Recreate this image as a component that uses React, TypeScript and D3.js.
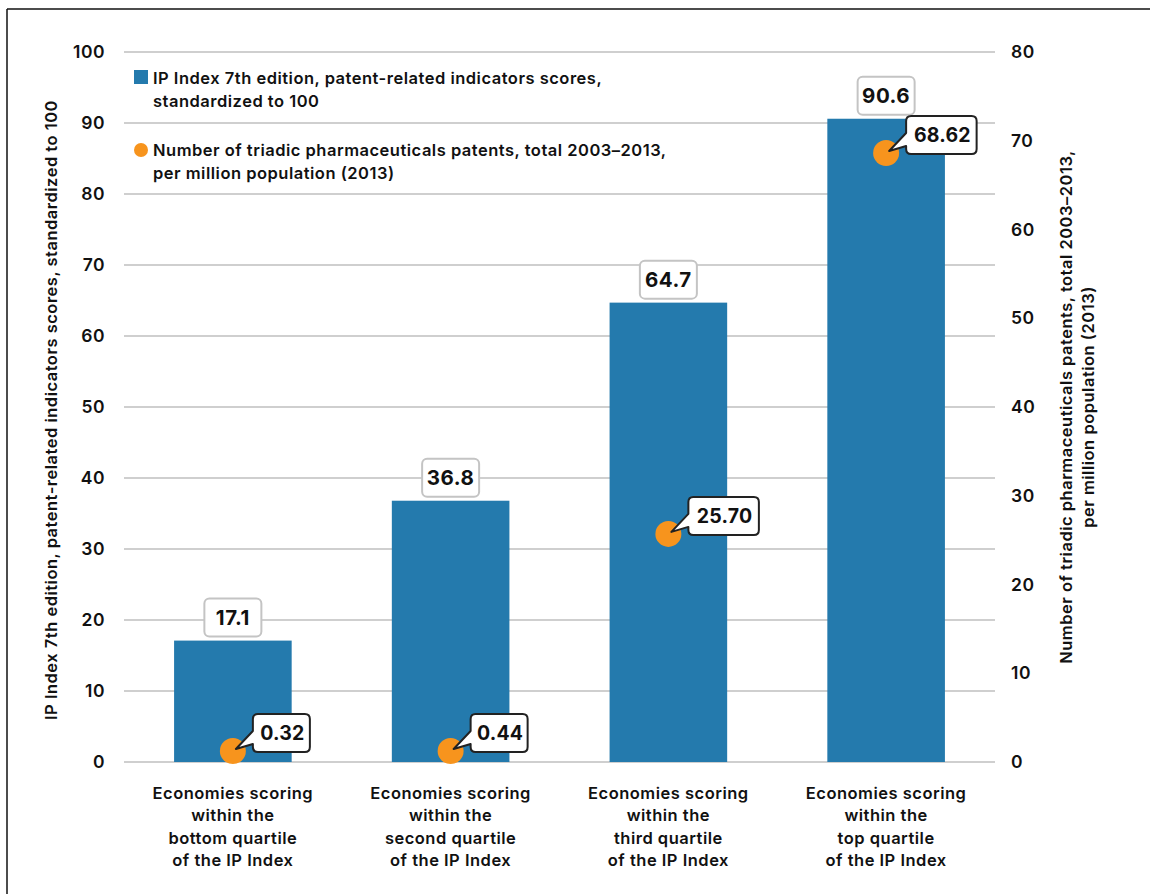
import React from "react";
import * as d3 from "d3";

const categories: string[][] = [
  ["Economies scoring", "within the", "bottom quartile", "of the IP Index"],
  ["Economies scoring", "within the", "second quartile", "of the IP Index"],
  ["Economies scoring", "within the", "third quartile", "of the IP Index"],
  ["Economies scoring", "within the", "top quartile", "of the IP Index"],
];
const ipScores = [17.1, 36.8, 64.7, 90.6];
const ipLabels = ["17.1", "36.8", "64.7", "90.6"];
const patents = [0.32, 0.44, 25.7, 68.62];
const patentLabels = ["0.32", "0.44", "25.70", "68.62"];
const leftTicks = [0, 10, 20, 30, 40, 50, 60, 70, 80, 90, 100];
const rightTicks = [0, 10, 20, 30, 40, 50, 60, 70, 80];
const legendBar = ["IP Index 7th edition, patent-related indicators scores,", "standardized to 100"];
const legendDot = ["Number of triadic pharmaceuticals patents, total 2003\u20132013,", "per million population (2013)"];
const leftTitle = "IP Index 7th edition, patent-related indicators scores, standardized to 100";
const rightTitle = ["Number of triadic pharmaceuticals patents, total 2003\u20132013,", "per million population (2013)"];

const BLUE = "#247aad";
const ORANGE = "#f7941d";
const FONT = "Inter, 'Open Sans', sans-serif";
const LS = 0.5;

function calloutPath(x: number, y: number, w: number, h: number, r: number, tx: number, ty: number) {
  const tTop = y + h - 21;
  const tBot = y + h - 8;
  return `M${x + r},${y} H${x + w - r} Q${x + w},${y} ${x + w},${y + r} V${y + h - r} Q${x + w},${y + h} ${x + w - r},${y + h} H${x + r} Q${x},${y + h} ${x},${y + h - r} V${tBot} L${tx},${ty} L${x},${tTop} V${y + r} Q${x},${y} ${x + r},${y} Z`;
}

export default function App() {
  const W = 1150, H = 894;
  const x = d3.scaleBand<number>().domain(d3.range(categories.length)).range([124, 995]).paddingInner(0.46).paddingOuter(0.23);
  const yL = d3.scaleLinear().domain([0, 100]).range([762, 52]);
  const yR = d3.scaleLinear().domain([0, 80]).range([762, 52]);
  const bw = x.bandwidth();

  return (
    <svg width={W} height={H} style={{ position: "absolute", left: 0, top: 0 }} fontFamily={FONT} letterSpacing={LS}>
      <rect x={0} y={0} width={W} height={H} fill="#fff" />
      <line x1={7} y1={9} x2={W} y2={9} stroke="#111" strokeWidth={1.5} />
      <line x1={7} y1={9} x2={7} y2={H} stroke="#111" strokeWidth={1.5} />

      {leftTicks.map((t) => (
        <g key={"g" + t}>
          <line x1={124} x2={995} y1={yL(t)} y2={yL(t)} stroke="#cfcfcf" strokeWidth={2} />
          <text x={105} y={yL(t)} dy="0.35em" textAnchor="end" fontSize={17.5} fontWeight={600} fill="#111">{t}</text>
        </g>
      ))}
      {rightTicks.map((t) => (
        <text key={"r" + t} x={1011} y={yR(t)} dy="0.35em" textAnchor="start" fontSize={17.5} fontWeight={600} fill="#111">{t}</text>
      ))}

      <text transform={`translate(57,410) rotate(-90)`} textAnchor="middle" fontSize={16.5} fontWeight={600} fill="#111">{leftTitle}</text>
      <text transform={`translate(1066,407) rotate(-90)`} textAnchor="middle" fontSize={16.5} fontWeight={600} fill="#111">
        <tspan x={0} dy="0.35em">{rightTitle[0]}</tspan>
        <tspan x={0} dy={22}>{rightTitle[1]}</tspan>
      </text>

      {ipScores.map((v, i) => (
        <rect key={"b" + i} x={x(i)} y={yL(v)} width={bw} height={yL(0) - yL(v)} fill={BLUE} />
      ))}

      {ipScores.map((v, i) => {
        const cx = (x(i) as number) + bw / 2;
        const w = 57, h = 38;
        const by = yL(v) - 4 - h;
        return (
          <g key={"vl" + i}>
            <rect x={cx - w / 2} y={by} width={w} height={h} rx={5} fill="#fff" stroke="#c4c4c4" strokeWidth={2} />
            <text x={cx} y={by + h / 2} dy="0.35em" textAnchor="middle" fontSize={20.5} fontWeight={700} fill="#111">{ipLabels[i]}</text>
          </g>
        );
      })}

      {patents.map((v, i) => {
        const cx = (x(i) as number) + bw / 2;
        const cy = Math.min(yR(v), 751);
        return <circle key={"d" + i} cx={cx} cy={cy} r={13} fill={ORANGE} />;
      })}

      {patents.map((v, i) => {
        const cx = (x(i) as number) + bw / 2;
        const cy = Math.min(yR(v), 751);
        const lbl = patentLabels[i];
        const w = 13.5 * lbl.length + 3, h = 38;
        const bx = cx + 20, by = cy + 1 - h;
        return (
          <g key={"pl" + i}>
            <path d={calloutPath(bx, by, w, h, 5, cx + 3, cy - 2)} fill="#fff" stroke="#222" strokeWidth={2} strokeLinejoin="round" />
            <text x={bx + w / 2 + 1} y={by + h / 2} dy="0.35em" textAnchor="middle" fontSize={19.5} fontWeight={700} letterSpacing={0.2} fill="#111">{lbl}</text>
          </g>
        );
      })}

      <rect x={134} y={70} width={14} height={14} fill={BLUE} />
      <text x={153} y={78} fontSize={16.5} fontWeight={600} fill="#111">
        <tspan x={153} dy="0.35em">{legendBar[0]}</tspan>
        <tspan x={153} dy={23}>{legendBar[1]}</tspan>
      </text>
      <circle cx={141} cy={150} r={7} fill={ORANGE} />
      <text x={153} y={150} fontSize={16.5} fontWeight={600} fill="#111">
        <tspan x={153} dy="0.35em">{legendDot[0]}</tspan>
        <tspan x={153} dy={23}>{legendDot[1]}</tspan>
      </text>

      {categories.map((lines, i) => {
        const cx = (x(i) as number) + bw / 2;
        return (
          <text key={"c" + i} x={cx} y={793} textAnchor="middle" fontSize={16.5} fontWeight={600} fill="#111">
            {lines.map((l, j) => (
              <tspan key={j} x={cx} y={793 + j * 22.5} dy="0.35em">{l}</tspan>
            ))}
          </text>
        );
      })}
    </svg>
  );
}
